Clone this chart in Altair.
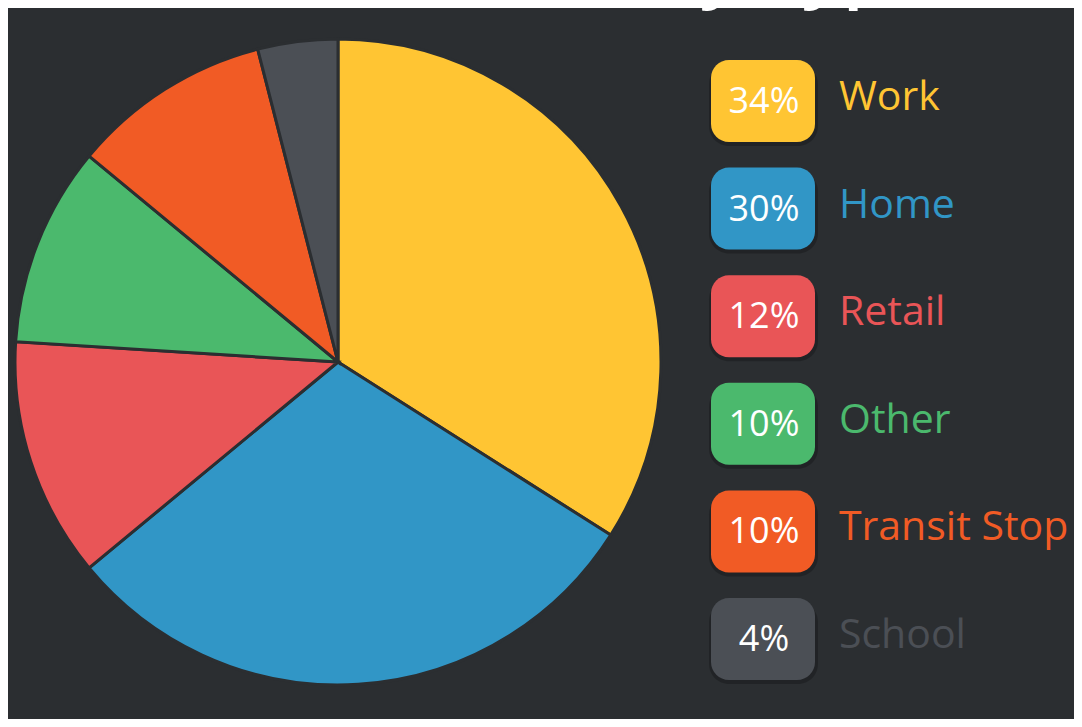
import altair as alt
import pandas as pd

categories = ["Work", "Home", "Retail", "Other", "Transit Stop", "School"]
shares = [34, 30, 12, 10, 10, 4]
colors = ["#FFC533", "#3196C6", "#E95557", "#4BB96D", "#F15B25", "#4B4F55"]
title_text = "Destinations by Type"

BG = "#2B2E31"

df = pd.DataFrame({
    "cat": categories,
    "share": shares,
    "idx": list(range(len(categories))),
    "pct": [f"{v}%" for v in shares],
})

color_scale = alt.Scale(domain=categories, range=colors)
y_scale = alt.Scale(domain=categories, range=[52, 672], paddingInner=0.238, paddingOuter=0)

base = alt.Chart(df)

pie = base.mark_arc(radius=323, stroke=BG, strokeWidth=3).encode(
    theta=alt.Theta("share:Q", stack=True),
    color=alt.Color("cat:N", scale=color_scale, legend=None),
    order=alt.Order("idx:Q"),
    x=alt.value(330),
    y=alt.value(354),
)

shadow = base.mark_rect(cornerRadius=20, color="black", opacity=0.22, yOffset=4).encode(
    x=alt.value(701),
    x2=alt.value(810),
    y=alt.Y("cat:N", scale=y_scale, axis=None, sort=categories),
)

boxes = base.mark_rect(cornerRadius=18).encode(
    x=alt.value(703),
    x2=alt.value(807),
    y=alt.Y("cat:N", scale=y_scale, axis=None, sort=categories),
    color=alt.Color("cat:N", scale=color_scale, legend=None),
)

pct_text = base.mark_text(
    font="Open Sans", fontSize=36, color="white", align="center", baseline="middle", dy=1
).encode(
    x=alt.value(756),
    y=alt.Y("cat:N", scale=y_scale, axis=None, sort=categories),
    text="pct:N",
)

labels = base.mark_text(
    font="Open Sans", fontSize=41, align="left", baseline="middle", dy=-3
).encode(
    x=alt.value(831),
    y=alt.Y("cat:N", scale=y_scale, axis=None, sort=categories),
    text="cat:N",
    color=alt.Color("cat:N", scale=color_scale, legend=None),
)

title = alt.Chart(pd.DataFrame({"t": [title_text]})).mark_text(
    font="Open Sans", fontSize=75, fontWeight=600, color="white", align="center", baseline="alphabetic"
).encode(
    x=alt.value(547),
    y=alt.value(-15),
    text="t:N",
)

chart = alt.layer(pie, shadow, boxes, pct_text, labels, title).properties(
    width=1066,
    height=711,
    autosize=alt.AutoSizeParams(type="none"),
    padding=0,
    background=BG,
).configure_view(stroke=None)

chart.save("out.html", embed_options={"renderer": "svg", "actions": False})
